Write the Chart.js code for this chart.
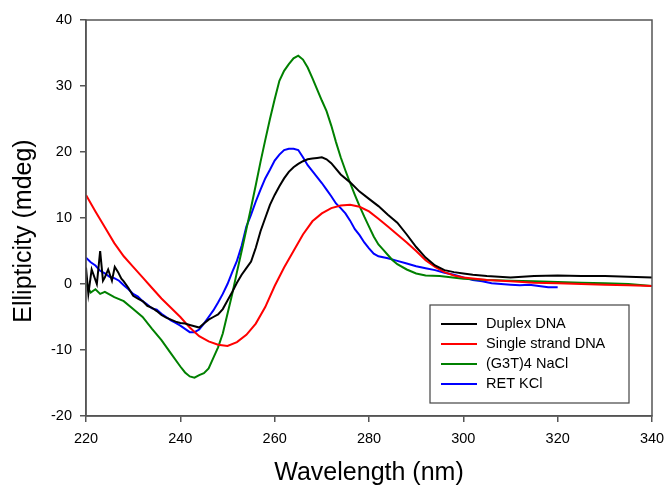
<!DOCTYPE html>
<html>
<head>
<meta charset="utf-8">
<script src="https://cdn.jsdelivr.net/npm/chart.js@4"></script>
<style>
  html, body { margin: 0; padding: 0; background: #fff; }
  #wrap { width: 665px; height: 488px; }
</style>
</head>
<body>
<div id="wrap"><canvas id="cd"></canvas></div>
<script>
const xTicks = [220, 240, 260, 280, 300, 320, 340];
const yTicks = [-20, -10, 0, 10, 20, 30, 40];

const duplexX = [220,220.5,221.2,222.3,223,223.6,224,224.7,225.5,226.1,226.8,227.5,228,229,230,231,232,233,234,235,236,237,238,239,240,241,242,243,244,245,246,247,248,249,250,251,252,253,254,255,256,257,258,259,260,261,262,263,264,265,266,267,268,269,270,271,272,274,276,278,280,282,284,286,288,290,292,294,296,298,300,302,305,310,315,320,325,330,335,340];
const duplexY = [2.5,-1.5,2.2,0,5.0,0.5,1.0,2.2,0.5,2.6,1.8,0.8,0.4,-0.6,-1.8,-2.2,-2.6,-3.3,-3.6,-4.1,-4.7,-5.1,-5.4,-5.7,-5.9,-6.0,-6.2,-6.4,-6.6,-6.0,-5.4,-5.0,-4.6,-3.8,-2.5,-1.2,0.2,1.4,2.4,3.4,5.5,8.0,10.0,12.0,13.5,14.8,16.0,17.0,17.7,18.2,18.6,18.9,19.0,19.1,19.2,18.9,18.3,16.6,15.4,14.0,12.9,11.8,10.5,9.3,7.5,5.6,4.0,2.8,2.1,1.8,1.6,1.4,1.2,1.0,1.2,1.3,1.2,1.2,1.1,1.0];

const singleX = [220,222,224,226,228,230,232,234,236,238,240,242,244,246,248,250,252,254,256,258,260,262,264,266,268,270,272,274,276,278,280,282,284,286,288,290,292,294,296,298,300,305,310,315,320,325,330,335,340];
const singleY = [13.5,11,8.6,6.2,4.2,2.6,1.0,-0.6,-2.2,-3.6,-5.0,-6.6,-7.9,-8.7,-9.2,-9.4,-8.8,-7.7,-6.0,-3.5,-0.3,2.5,5.0,7.5,9.5,10.7,11.5,11.9,12.0,11.7,11.0,9.9,8.7,7.5,6.3,5.0,3.6,2.6,1.8,1.3,1.0,0.6,0.4,0.2,0.1,0,-0.1,-0.2,-0.3];

const g3tX = [220,221,222,223,224,226,228,230,232,234,236,238,240,241,242,243,244,245,246,247,248,249,250,251,252,253,254,255,256,257,258,259,260,261,262,263,264,265,266,267,268,269,270,271,272,273,274,275,276,277,278,279,280,281,282,283,284,285,286,288,290,292,295,300,305,310,315,320,325,330,335,340];
const g3tY = [0,-1.3,-0.8,-1.5,-1.2,-2.0,-2.6,-3.8,-5.0,-6.8,-8.5,-10.5,-12.5,-13.4,-14.0,-14.2,-13.8,-13.5,-12.8,-11.2,-9.6,-7.5,-4.5,-1.5,1.8,5.0,8.3,11.6,15.0,18.5,21.8,25.0,28.0,30.8,32.3,33.3,34.2,34.6,34.0,32.8,31.2,29.5,27.8,26.2,24.0,21.5,19.2,17.2,15.3,13.5,11.8,10.2,8.7,7.2,6.0,5.2,4.4,3.6,3.0,2.2,1.6,1.3,1.2,0.8,0.6,0.5,0.4,0.3,0.2,0.1,0.0,-0.3];

const retX = [220,221,222,223,224,225,226,227,228,229,230,231,232,233,234,235,236,237,238,239,240,241,242,243,244,245,246,247,248,249,250,251,252,253,254,255,256,257,258,259,260,261,262,263,264,265,266,267,268,269,270,271,272,273,274,275,276,277,278,279,280,281,282,284,286,288,290,292,294,296,298,300,302,304,306,308,310,312,314,316,318,320];
const retY = [4,3.3,2.8,2.0,1.6,1.1,0.9,0.5,-0.2,-0.8,-1.5,-1.9,-2.6,-3.1,-3.7,-3.9,-4.5,-5.0,-5.5,-5.9,-6.3,-6.8,-7.3,-7.3,-6.9,-6.0,-5.0,-4.0,-2.8,-1.5,0,1.8,3.5,5.8,8.7,10.5,12.5,14.3,16.0,17.3,18.7,19.6,20.3,20.5,20.5,20.3,19.2,18.0,17.1,16.2,15.3,14.3,13.3,12.2,11.5,10.7,9.6,8.3,7.4,6.3,5.4,4.6,4.2,3.9,3.5,3.1,2.7,2.4,2.1,1.7,1.4,1.0,0.6,0.4,0.1,0.0,-0.1,-0.2,-0.1,-0.3,-0.5,-0.5];

const seriesNames = ["Duplex DNA", "Single strand DNA", "(G3T)4 NaCl", "RET KCl"];
const seriesColors = ["#000000", "#ff0000", "#008000", "#0000ff"];
const yTitle = "Ellipticity (mdeg)";

function pts(xs, ys) {
  return xs.map((x, i) => ({ x: x, y: ys[i] }));
}

const allData = [pts(duplexX, duplexY), pts(singleX, singleY), pts(g3tX, g3tY), pts(retX, retY)];

// frame round the plot area, the legend box and the y title (sits a bit low in the original)
const framePlugin = {
  id: "frame",
  afterDatasetsDraw(chart) {
    const ctx = chart.ctx;
    const a = chart.chartArea;
    ctx.save();
    ctx.strokeStyle = "#555";
    ctx.lineWidth = 1.5;
    ctx.strokeRect(a.left, a.top, a.right - a.left, a.bottom - a.top);

    const bx = a.right - 222, by = a.bottom - 111, bw = 199, bh = 98;
    ctx.fillStyle = "#fff";
    ctx.fillRect(bx, by, bw, bh);
    ctx.strokeStyle = "#444";
    ctx.lineWidth = 1.2;
    ctx.strokeRect(bx, by, bw, bh);
    ctx.font = "14.5px 'Liberation Sans', Arial, sans-serif";
    ctx.textBaseline = "middle";
    seriesNames.forEach((name, i) => {
      const y = by + 19 + i * 20;
      ctx.strokeStyle = seriesColors[i];
      ctx.lineWidth = 2;
      ctx.beginPath();
      ctx.moveTo(bx + 11, y);
      ctx.lineTo(bx + 47, y);
      ctx.stroke();
      ctx.fillStyle = "#000";
      ctx.fillText(name, bx + 56, y);
    });

    ctx.translate(24, (a.top + a.bottom) / 2 + 13);
    ctx.rotate(-Math.PI / 2);
    ctx.font = "25px 'Liberation Sans', Arial, sans-serif";
    ctx.textAlign = "center";
    ctx.textBaseline = "middle";
    ctx.fillStyle = "#000";
    ctx.fillText(yTitle, 0, 0);
    ctx.restore();
  }
};

new Chart("cd", {
  type: "line",
  data: {
    datasets: allData.map((d, i) => ({
      label: seriesNames[i],
      data: d,
      borderColor: seriesColors[i],
      backgroundColor: seriesColors[i],
      borderWidth: 2,
      pointRadius: 0,
      tension: 0,
      fill: false
    }))
  },
  options: {
    responsive: true,
    maintainAspectRatio: false,
    animation: false,
    layout: { padding: { top: 20, right: 13, left: 0, bottom: 0 } },
    plugins: {
      legend: { display: false },
      tooltip: { enabled: false }
    },
    scales: {
      x: {
        type: "linear",
        min: 220,
        max: 340,
        afterBuildTicks: s => { s.ticks = xTicks.map(v => ({ value: v })); },
        afterFit: s => { s.height = 72; s.paddingLeft = 0; s.paddingRight = 0; },
        ticks: {
          color: "#000",
          font: { family: "'Liberation Sans', Arial, sans-serif", size: 14.5 },
          padding: 8
        },
        grid: { drawOnChartArea: false, tickLength: 6, color: "#555", lineWidth: 1.5 },
        border: { display: true, color: "#555", width: 1.5 },
        title: {
          display: true,
          text: "Wavelength (nm)",
          color: "#000",
          font: { family: "'Liberation Sans', Arial, sans-serif", size: 25 },
          padding: { top: 0, bottom: 0 }
        }
      },
      y: {
        min: -20,
        max: 40,
        afterBuildTicks: s => { s.ticks = yTicks.map(v => ({ value: v })); },
        afterFit: s => { s.width = 86; s.paddingTop = 0; s.paddingBottom = 0; },
        ticks: {
          color: "#000",
          font: { family: "'Liberation Sans', Arial, sans-serif", size: 14.5 },
          padding: 8
        },
        grid: { drawOnChartArea: false, tickLength: 6, color: "#555", lineWidth: 1.5 },
        border: { display: true, color: "#555", width: 1.5 },
        title: { display: false }
      }
    }
  },
  plugins: [framePlugin]
});
</script>
</body>
</html>
